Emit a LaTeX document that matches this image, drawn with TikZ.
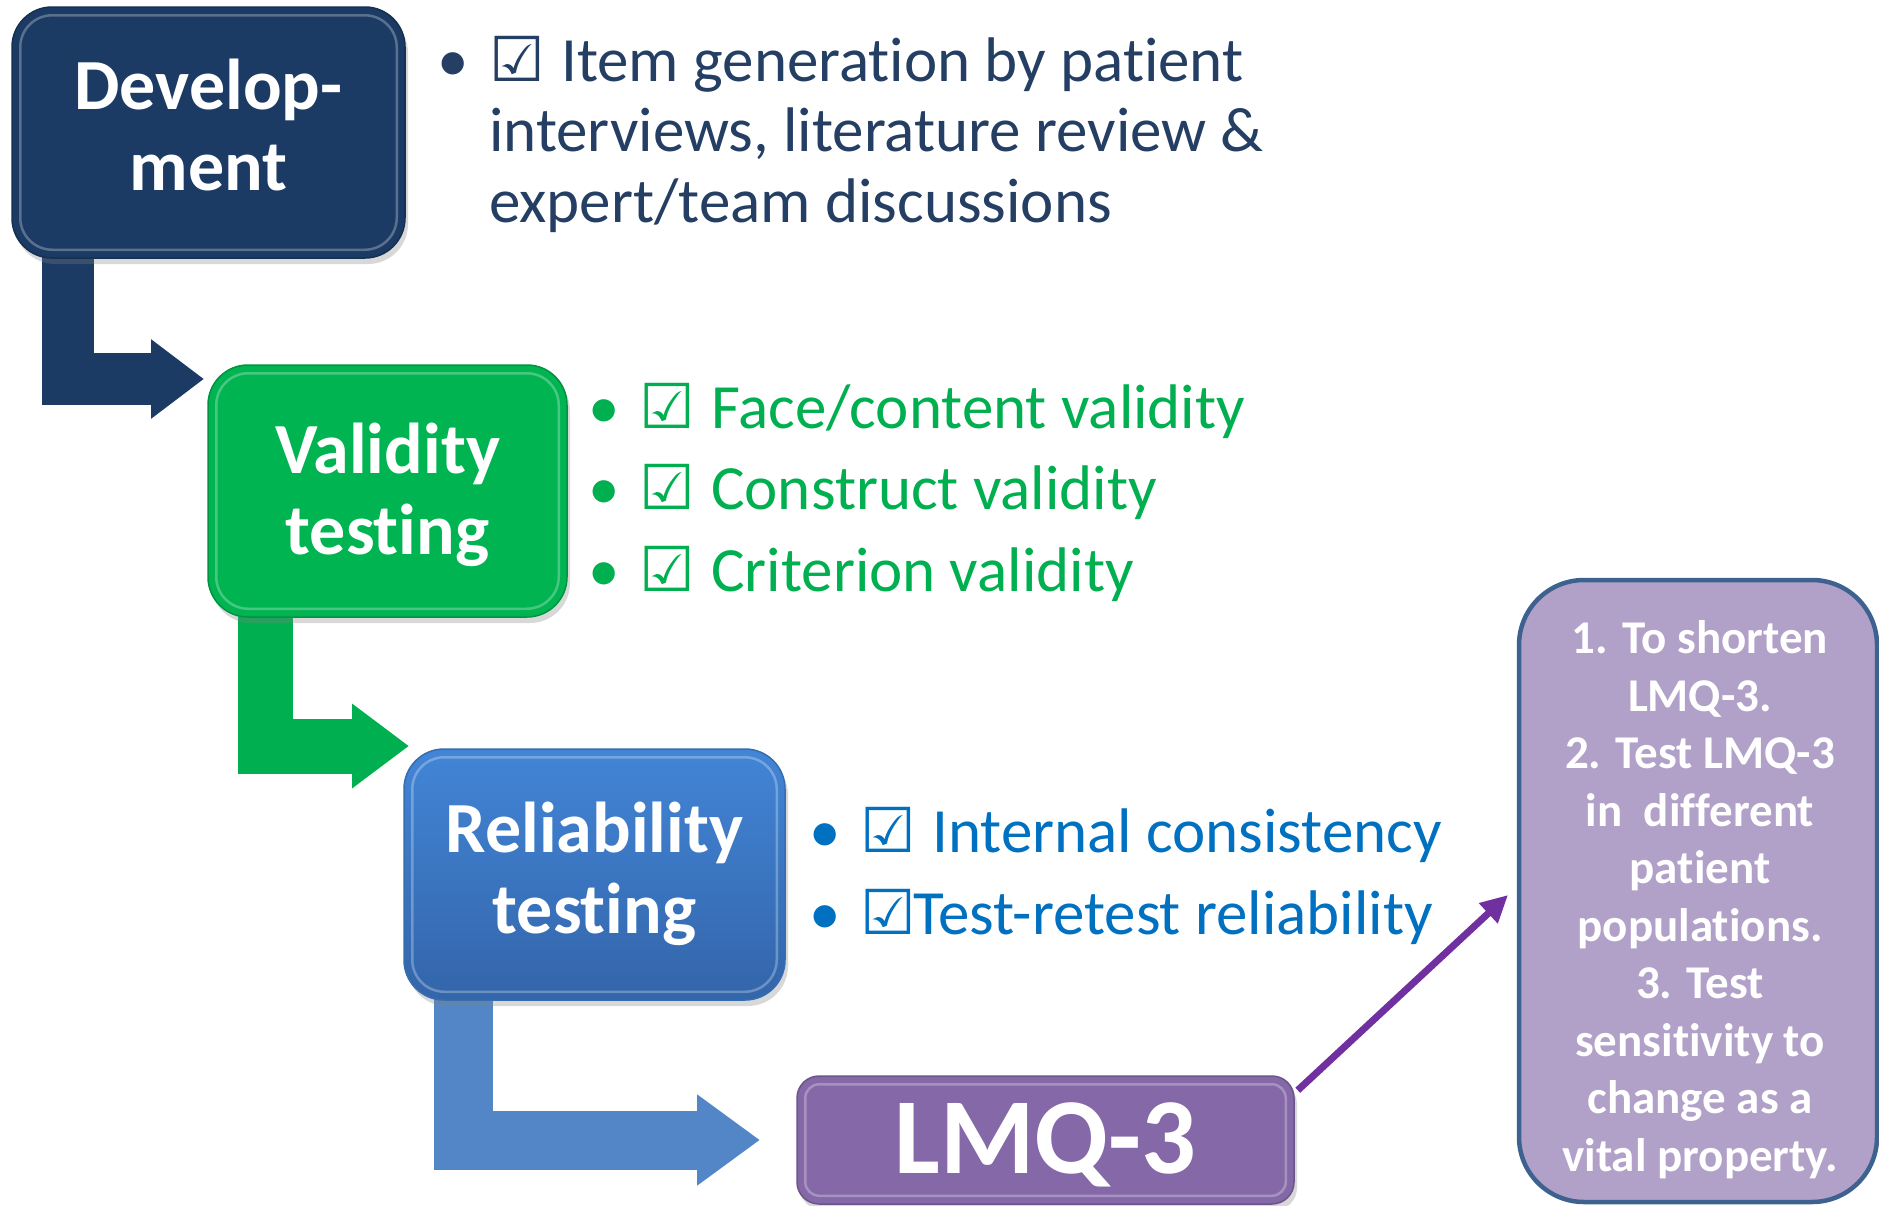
\documentclass[tikz,border=0pt]{standalone}
\usepackage{fontspec}
\setmainfont{Carlito}[Ligatures={NoCommon}]
\newfontfamily\chkfont{DejaVu Sans}
\usetikzlibrary{arrows.meta,shadows,calc}
\pgfdeclarelayer{bg}
\pgfsetlayers{bg,main}

\definecolor{devblue}{HTML}{1B3A64}
\definecolor{devtext}{HTML}{243F63}
\definecolor{valgreen}{HTML}{00B451}
\definecolor{listgreen}{HTML}{00B050}
\definecolor{reltop}{HTML}{4285D6}
\definecolor{relbot}{HTML}{3365AA}
\definecolor{relarrow}{HTML}{5386C6}
\definecolor{listblue}{HTML}{0070C0}
\definecolor{lmqpurple}{HTML}{8468A7}
\definecolor{linkpurple}{HTML}{7030A0}
\definecolor{goalfill}{HTML}{B1A0C7}
\definecolor{goalline}{HTML}{3D6290}

% ballot box with check
\newcommand{\chk}{{\chkfont\fontsize{62}{62}\selectfont ☑}}
% glossy inner rim of a stage box
\newcommand{\bevel}[3]{%
  \draw[white, opacity=0.28, line width=2.5pt, rounded corners=#2]
    ([shift={(#3,#3)}]#1.north west) rectangle ([shift={(-#3,-#3)}]#1.south east);}

\begin{document}
\begin{tikzpicture}[x=1pt,y=-1pt,
  stage/.style={rounded corners=40pt, inner sep=0pt, draw=#1!82!black, line width=1.5pt,
    fill=#1, drop shadow={shadow xshift=3pt, shadow yshift=-6pt, opacity=0.3}},
  stagetext/.style={align=center, inner sep=0pt, text=white,
    font=\bfseries\fontsize{72}{81}\selectfont},
  flow/.style={line width=#1, line join=miter},
  bul/.style={anchor=base, inner sep=0pt, font=\fontsize{63}{71}\selectfont},
  listtext/.style={anchor=base west, inner sep=0pt, font=\fontsize{63}{71}\selectfont},
]
\useasboundingbox (0,0) rectangle (1879,1205);

% ---- stage boxes ----
\node[stage=devblue, minimum width=393pt, minimum height=251pt] (dev) at (208.5,132.5) {};
\node[stage=valgreen, minimum width=359pt, minimum height=252pt] (val) at (387.5,491) {};
\node[stage=reltop, top color=reltop, bottom color=relbot,
      minimum width=381pt, minimum height=251pt] (rel) at (594.5,874.5) {};
\node[stage=lmqpurple, rounded corners=22pt, minimum width=497pt, minimum height=128pt] (lmq) at (1045.5,1140) {};
\bevel{dev}{32pt}{9}
\bevel{val}{32pt}{9}
\bevel{rel}{32pt}{9}
\bevel{lmq}{14pt}{9}

\node[stagetext] (devtxt) at (208.5,124.5) {Develop-\\ment};
\node[stagetext] (valtxt) at (387.5,495) {Validity\\testing};
\node[stagetext] (reltxt) at (594.5,873.5) {Reliability\\testing};
\node[anchor=base, inner sep=0pt, text=white, font=\bfseries\fontsize{108}{108}\selectfont]
  (lmqtxt) at (1045.5,1173) {LMQ-3};

% ---- bent arrows between stages (behind the boxes) ----
\coordinate (tip1) at (204,379);
\coordinate (tip2) at (409,746);
\coordinate (tip3) at (760,1140);
\begin{pgfonlayer}{bg}
\fill[white] (0,0) rectangle (1879,1205);
\draw[flow=52pt, devblue, -{Triangle[length=53pt,width=76pt]}]
  ($(dev.south west)+(57,-20)$) |- (tip1);
\draw[flow=55pt, listgreen, -{Triangle[length=57pt,width=81pt]}]
  ($(val.south west)+(58.5,-20)$) |- (tip2);
\draw[flow=59pt, relarrow, -{Triangle[length=63pt,width=87pt]}]
  ($(rel.south west)+(60.5,-20)$) |- (tip3);
\end{pgfonlayer}

% ---- checklists ----
\node[bul, text=devtext] (db1) at (453,81) {•};
\node[listtext, text=devtext] (d1) at (489,81) {\makebox[72pt][l]{\chk}Item generation by patient};
\node[listtext, text=devtext] (d2) at (489,151) {interviews, literature review \&};
\node[listtext, text=devtext] (d3) at (489,222) {expert/team discussions};

\node[bul, text=listgreen] (vb1) at (604,428) {•};
\node[bul, text=listgreen] (vb2) at (604,509) {•};
\node[bul, text=listgreen] (vb3) at (604,591) {•};
\node[listtext, text=listgreen] (v1) at (639,428) {\makebox[72pt][l]{\chk}Face/content validity};
\node[listtext, text=listgreen] (v2) at (639,509) {\makebox[72pt][l]{\chk}Construct validity};
\node[listtext, text=listgreen] (v3) at (639,591) {\makebox[72pt][l]{\chk}Criterion validity};

\node[bul, text=listblue] (rb1) at (825,852) {•};
\node[bul, text=listblue] (rb2) at (825,934) {•};
\node[listtext, text=listblue] (r1) at (860,852) {\makebox[72pt][l]{\chk}Internal consistency};
\node[listtext, text=listblue] (r2) at (860,934) {\makebox[53pt][l]{\chk}Test-retest reliability};

% ---- aims box ----
\node[rounded corners=65pt, fill=goalfill, draw=goalline, line width=4.5pt,
      minimum width=358pt, minimum height=622pt, inner sep=0pt] (goal) at (1698,891) {};
\node[align=center, inner sep=0pt, text=white, font=\bfseries\fontsize{47}{57.5}\selectfont]
  (goaltxt) at (1700,899.5)
  {1. To shorten\\LMQ-3.\\2. Test LMQ-3\\in~ different\\patient\\populations.\\3. Test\\sensitivity to\\change as a\\vital property.};

\coordinate (ltip) at (1508,895);
\draw[linkpurple, line width=7pt, -{Triangle[length=27pt,width=26pt]}]
  ([shift={(3,15)}]lmq.north east) -- (ltip);
\end{tikzpicture}
\end{document}
